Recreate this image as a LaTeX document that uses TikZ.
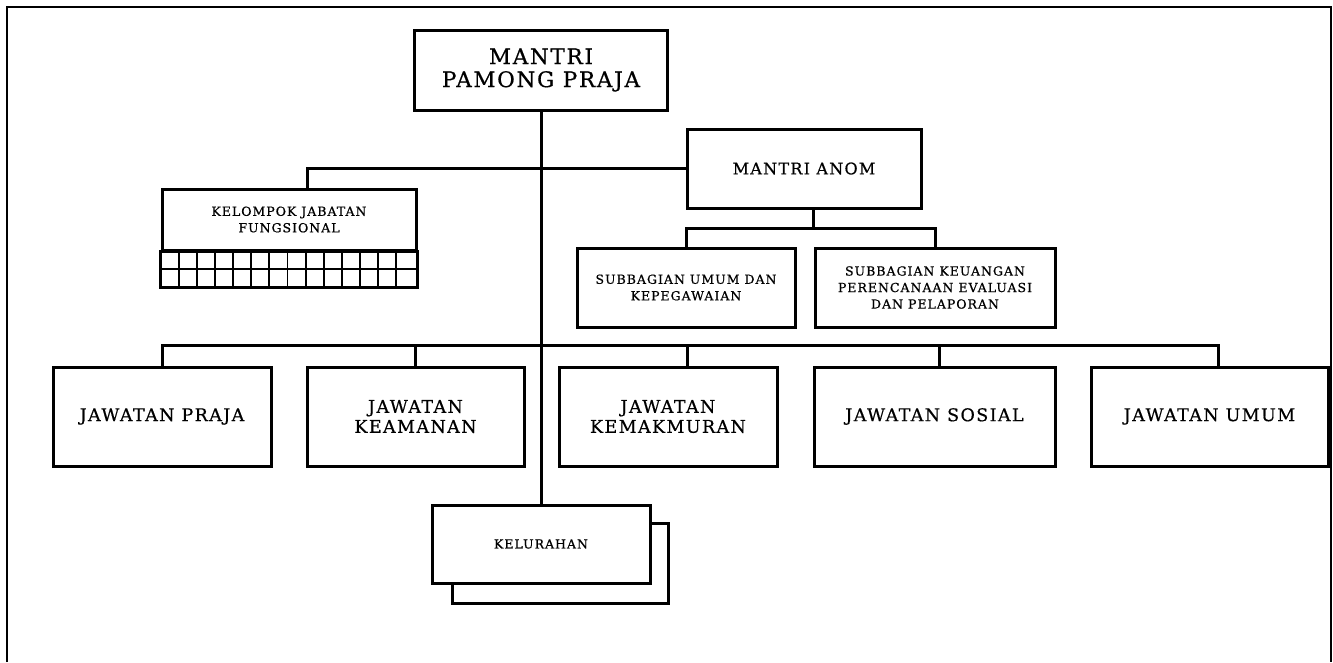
\documentclass[tikz,border=0pt]{standalone}
\usepackage{fontspec}
\setmainfont{DejaVu Serif}[LetterSpace=8, FakeBold=0.6]
\usepackage{tikz}

\begin{document}
\begin{tikzpicture}[
  x=1pt, y=-1pt,
  post/.style={rectangle, draw, line width=3pt, fill=white, align=center, inner sep=2pt, font=\fontsize{17.5}{20}\selectfont},
  chief/.style={post, font=\fontsize{21.5}{23}\selectfont},
  office/.style={post, font=\fontsize{12.5}{16.5}\selectfont},
  link/.style={line width=3pt},
  cell/.style={line width=1.8pt},
  frame/.style={line width=2pt}
]
\useasboundingbox (0,0) rectangle (1333,662);

% Page frame (open at the bottom)
\draw[frame] (7,662) -- (7,7) -- (1331,7) -- (1331,662);

% Top - head of the office
\node[chief, minimum width=253pt, minimum height=80pt] (mpp) at (541,70) {MANTRI\\PAMONG PRAJA};

% Deputy and functional group
\node[post, font=\fontsize{16}{20}\selectfont, minimum width=234pt, minimum height=79pt] (anom) at (804,168.5) {MANTRI ANOM};
\node[office, minimum width=254pt, minimum height=61pt] (kjf) at (289,219.5) {KELOMPOK JABATAN\\FUNGSIONAL};

% Subsections under the deputy
\node[office, minimum width=218pt, minimum height=79pt] (umumpeg) at (686,287.5) {SUBBAGIAN UMUM DAN\\KEPEGAWAIAN};
\node[office, minimum width=240pt, minimum height=79pt] (keuangan) at (935,287.5) {SUBBAGIAN KEUANGAN\\PERENCANAAN EVALUASI\\DAN PELAPORAN};

% Bottom row - the jawatan
\node[post, minimum width=218pt, minimum height=99pt] (praja) at (162,416.5) {JAWATAN PRAJA};
\node[post, minimum width=217pt, minimum height=99pt] (keamanan) at (415.5,416.5) {JAWATAN\\KEAMANAN};
\node[post, minimum width=218pt, minimum height=99pt] (kemakmuran) at (668,416.5) {JAWATAN\\KEMAKMURAN};
\node[post, minimum width=241pt, minimum height=99pt] (sosial) at (934.5,416.5) {JAWATAN SOSIAL};
\node[post, minimum width=237pt, minimum height=99pt] (umum) at (1209.5,416.5) {JAWATAN UMUM};

% Kelurahan (stacked boxes)
\node[post, minimum width=216pt, minimum height=80pt] (kelback) at (560,563) {};
\node[office, minimum width=218pt, minimum height=78pt] (kel) at (541,544) {KELURAHAN};

% Grid of the functional group
\draw[post] (kjf.south west) rectangle ([yshift=-36pt]kjf.south east);
\draw[cell] ([yshift=-17.5pt]kjf.south west) -- ([yshift=-17.5pt]kjf.south east);
\foreach \i in {1,...,13}
  \draw[cell] ([xshift=\i*18.14pt]kjf.south west) -- ([xshift=\i*18.14pt, yshift=-36pt]kjf.south west);

% Main line
\draw[link] (mpp.south) -- (kel.north);
\draw[link] (anom.west) -| ([xshift=18pt]kjf.north);

% Deputy to subsections
\coordinate (anombus) at (813,228);
\draw[link] (anom.south -| anombus) -- (anombus);
\draw[link] (umumpeg.north) |- (anombus) -| (keuangan.north);

% Jawatan line
\draw[link] (praja.north) -- ++(0,-20) -| ([xshift=8.5pt]umum.north);
\foreach \n/\dx in {keamanan/0, kemakmuran/19, sosial/4.5}
  \draw[link] ([xshift=\dx pt]\n.north) -- ++(0,-20);

\end{tikzpicture}
\end{document}
